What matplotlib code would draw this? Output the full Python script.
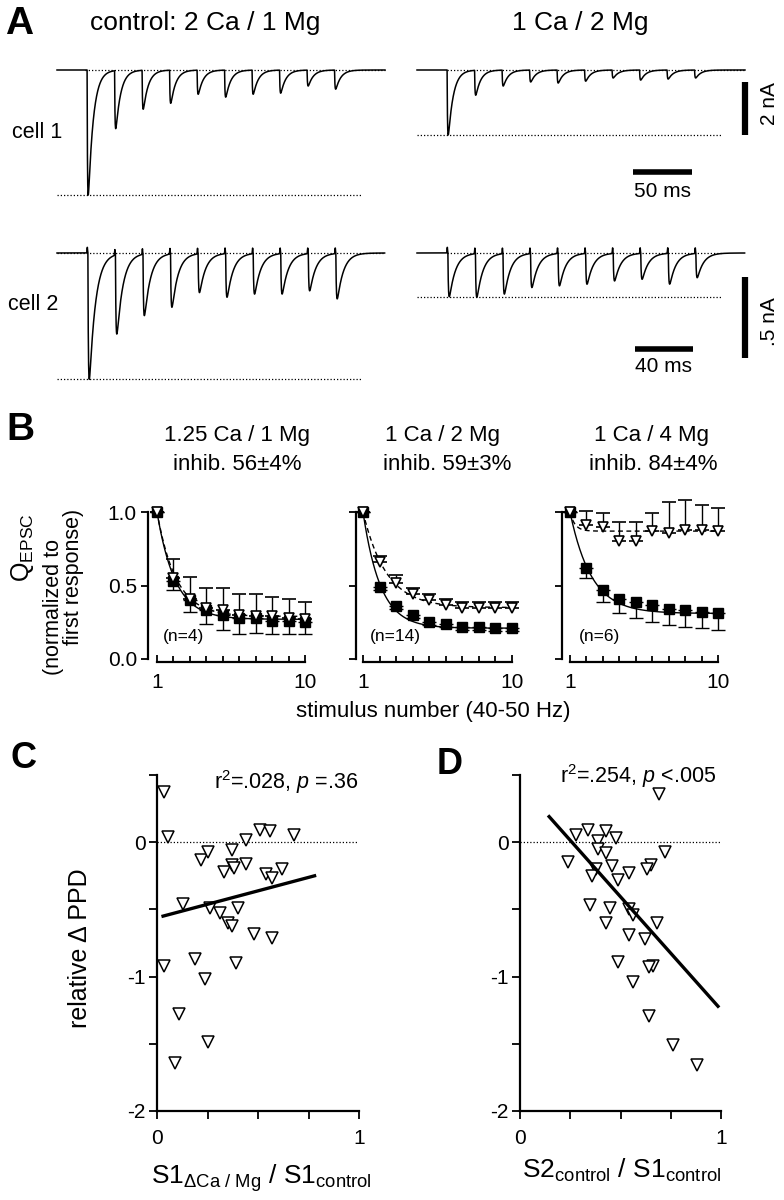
import numpy as np
import matplotlib
matplotlib.use('Agg')
import matplotlib.pyplot as plt

plt.rcParams['font.family'] = ['Liberation Sans', 'DejaVu Sans']
plt.rcParams['mathtext.fontset'] = 'custom'
plt.rcParams['mathtext.rm'] = 'Liberation Sans'
plt.rcParams['mathtext.it'] = 'Liberation Sans:italic'
plt.rcParams['mathtext.bf'] = 'Liberation Sans:bold'
plt.rcParams['axes.unicode_minus'] = False
plt.rcParams['axes.linewidth'] = 1.6

# ------------------------------------------------------------------ data
# Panel A: peak EPSC amplitudes (nA) for the 10 stimuli of each train
amp_cell1_ctrl = [4.72, 2.19, 1.47, 1.25, 0.91, 1.02, 0.91, 0.87, 0.60, 0.72]
amp_cell1_low = [2.45, 0.94, 0.60, 0.45, 0.49, 0.42, 0.30, 0.38, 0.34, 0.30]
amp_cell2_ctrl = [0.78, 0.49, 0.38, 0.33, 0.24, 0.27, 0.25, 0.25, 0.23, 0.28]
amp_cell2_low = [0.27, 0.27, 0.25, 0.21, 0.20, 0.19, 0.17, 0.16, 0.19, 0.15]
cell1_onset_ms, cell1_isi_ms, cell1_dur_ms = 25.5, 23.3, 278
cell2_onset_ms, cell2_isi_ms, cell2_dur_ms = 21.3, 19.0, 226
epsc_tau_rise, epsc_tau_decay = 0.35, 4.3
cell2_artifact_nA = 0.035

# Panel B: normalized Q_EPSC vs stimulus number
stim_number = [1, 2, 3, 4, 5, 6, 7, 8, 9, 10]
b_title1 = ["1.25 Ca / 1 Mg", "1 Ca / 2 Mg", "1 Ca / 4 Mg"]
b_title2 = ["inhib. 56±4%", "inhib. 59±3%", "inhib. 84±4%"]
b_n = ["(n=4)", "(n=14)", "(n=6)"]
# open triangles, upper error
b_open = [
    [1.0, 0.55, 0.41, 0.35, 0.33, 0.30, 0.29, 0.29, 0.28, 0.27],
    [1.0, 0.66, 0.52, 0.44, 0.40, 0.37, 0.35, 0.35, 0.35, 0.35],
    [1.0, 0.91, 0.90, 0.80, 0.80, 0.87, 0.86, 0.88, 0.88, 0.87],
]
b_open_err = [
    [0.0, 0.13, 0.15, 0.13, 0.15, 0.14, 0.15, 0.13, 0.13, 0.12],
    [0.0, 0.04, 0.05, 0.04, 0.04, 0.04, 0.04, 0.04, 0.04, 0.04],
    [0.0, 0.10, 0.09, 0.13, 0.13, 0.12, 0.21, 0.20, 0.17, 0.16],
]
# filled squares, lower error
b_fill = [
    [1.0, 0.53, 0.40, 0.33, 0.30, 0.28, 0.28, 0.26, 0.26, 0.25],
    [1.0, 0.49, 0.36, 0.30, 0.25, 0.24, 0.22, 0.22, 0.21, 0.21],
    [1.0, 0.62, 0.47, 0.41, 0.39, 0.37, 0.34, 0.33, 0.32, 0.31],
]
b_fill_err = [
    [0.0, 0.06, 0.08, 0.09, 0.10, 0.11, 0.10, 0.09, 0.09, 0.08],
    [0.0, 0.02, 0.02, 0.02, 0.02, 0.02, 0.02, 0.02, 0.02, 0.02],
    [0.0, 0.07, 0.08, 0.10, 0.11, 0.12, 0.11, 0.11, 0.11, 0.11],
]
# exponential fits: (plateau, tau in stimuli)
b_fit_open = [(0.29, 1.15), (0.35, 1.4), (0.87, 0.3)]
b_fit_fill = [(0.27, 1.1), (0.21, 1.05), (0.31, 1.3)]

# Panel C: relative change of PPD vs S1(dCa/Mg)/S1(control)
c_x = [0.035, 0.055, 0.22, 0.25, 0.37, 0.37, 0.33, 0.38, 0.44, 0.44, 0.51,
       0.56, 0.68, 0.54, 0.57, 0.62, 0.13, 0.26, 0.31, 0.40, 0.35, 0.37,
       0.48, 0.57, 0.035, 0.19, 0.39, 0.24, 0.11, 0.25, 0.09]
c_y = [0.37, 0.04, -0.13, -0.07, -0.06, -0.17, -0.22, -0.19, 0.02, -0.16,
       0.09, 0.08, 0.05, -0.24, -0.27, -0.20, -0.46, -0.49, -0.53, -0.49,
       -0.60, -0.62, -0.68, -0.71, -0.92, -0.87, -0.90, -1.02, -1.28, -1.49,
       -1.64]
c_fit_slope, c_fit_icpt, c_fit_range = 0.40, -0.562, (0.03, 0.78)
c_stats = r"r$^2$=.028, $p$ =.36"

# Panel D: relative change of PPD vs S2(control)/S1(control)
d_x = [0.69, 0.28, 0.34, 0.43, 0.39, 0.48, 0.39, 0.43, 0.72, 0.24, 0.46,
       0.65, 0.63, 0.38, 0.36, 0.54, 0.49, 0.35, 0.45, 0.54, 0.43, 0.68,
       0.56, 0.54, 0.62, 0.49, 0.66, 0.64, 0.56, 0.64, 0.76, 0.88]
d_y = [0.36, 0.05, 0.09, 0.08, 0.01, 0.03, -0.05, -0.08, -0.07, -0.15,
       -0.18, -0.17, -0.20, -0.20, -0.25, -0.23, -0.28, -0.47, -0.49, -0.50,
       -0.60, -0.60, -0.54, -0.69, -0.72, -0.89, -0.92, -0.93, -1.04, -1.29,
       -1.51, -1.66]
d_fit_slope, d_fit_icpt, d_fit_range = -1.68, 0.434, (0.145, 0.985)
d_stats = r"r$^2$=.254, $p$ <.005"

# ------------------------------------------------------------------ figure
W, H = 784, 1200
fig = plt.figure(figsize=(W / 100, H / 100), dpi=100)


def ax_px(l, t, r, b):
    return fig.add_axes([l / W, 1 - b / H, (r - l) / W, (b - t) / H])


def ftxt(x, y, s, **kw):
    kw.setdefault('ha', 'center')
    kw.setdefault('va', 'center')
    fig.text(x / W, 1 - y / H, s, **kw)


def epsc_trace(amps, onset, isi, dur, artifact=0.0):
    t = np.arange(0, dur, 0.05)
    y = np.zeros_like(t)
    tr, td = epsc_tau_rise, epsc_tau_decay
    tp = tr * td / (td - tr) * np.log(td / tr)
    norm = np.exp(-tp / td) - np.exp(-tp / tr)
    for i, a in enumerate(amps):
        s = t - (onset + i * isi)
        m = s > 0
        y[m] -= a * (np.exp(-s[m] / td) - np.exp(-s[m] / tr)) / norm
        if artifact:
            y += artifact * np.exp(-((s + 0.4) / 0.25) ** 2)
    return t, y


def trace_axes(l, r, t, b, x0, y0, px_ms, px_na):
    ax = ax_px(l, t, r, b)
    ax.set_xlim((l - x0) / px_ms, (r - x0) / px_ms)
    ax.set_ylim(-(b - y0) / px_na, (y0 - t) / px_na)
    ax.axis('off')
    return ax


dot = dict(color='black', lw=0.9, ls=(0, (1, 1.6)))
tr_kw = dict(color='black', lw=1.1)

# ---- Panel A, cell 1 (1.18 px/ms, 26.5 px/nA)
pxms1, pxna1 = 1.18, 26.5
axL = trace_axes(50, 395, 55, 210, 57, 70, pxms1, pxna1)
t, y = epsc_trace(amp_cell1_ctrl, cell1_onset_ms, cell1_isi_ms, cell1_dur_ms)
axL.plot(t, y, **tr_kw)
axL.plot([24, 278], [0, 0], **dot)
axL.plot([0, 258], [-amp_cell1_ctrl[0], -amp_cell1_ctrl[0]], **dot)

axR = trace_axes(410, 784, 55, 210, 417, 70, pxms1, pxna1)
t, y = epsc_trace(amp_cell1_low, cell1_onset_ms, cell1_isi_ms, cell1_dur_ms)
axR.plot(t, y, **tr_kw)
axR.plot([25, 278], [0, 0], **dot)
axR.plot([0, 258], [-amp_cell1_low[0], -amp_cell1_low[0]], **dot)
# scale bars 2 nA / 50 ms
axR.plot([278, 278], [-0.45, -2.45], color='black', lw=4.5, solid_capstyle='butt')
axR.text(299, -1.28, "2 nA", rotation=90, ha='center', va='center', fontsize=15)
axR.plot([183, 233], [-3.85, -3.85], color='black', lw=4, solid_capstyle='butt')
axR.text(208, -4.6, "50 ms", ha='center', va='center', fontsize=15, clip_on=False)

# ---- Panel A, cell 2 (1.45 px/ms, 162 px/nA)
pxms2, pxna2 = 1.45, 162.0
axL2 = trace_axes(50, 395, 238, 390, 57, 253, pxms2, pxna2)
t, y = epsc_trace(amp_cell2_ctrl, cell2_onset_ms, cell2_isi_ms, cell2_dur_ms,
                  cell2_artifact_nA)
axL2.plot(t, y, **tr_kw)
axL2.plot([0, 225], [0, 0], **dot)
axL2.plot([0, 210], [-amp_cell2_ctrl[0], -amp_cell2_ctrl[0]], **dot)

axR2 = trace_axes(410, 784, 238, 390, 417, 253, pxms2, pxna2)
t, y = epsc_trace(amp_cell2_low, cell2_onset_ms, cell2_isi_ms, cell2_dur_ms,
                  cell2_artifact_nA)
axR2.plot(t, y, **tr_kw)
axR2.plot([21, 210], [0, 0], **dot)
axR2.plot([0, 210], [-amp_cell2_low[0], -amp_cell2_low[0]], **dot)
axR2.plot([226, 226], [-0.148, -0.648], color='black', lw=4.5, solid_capstyle='butt')
axR2.text(243, -0.426, ".5 nA", rotation=90, ha='center', va='center', fontsize=15)
axR2.plot([150, 190], [-0.593, -0.593], color='black', lw=4, solid_capstyle='butt')
axR2.text(170, -0.70, "40 ms", ha='center', va='center', fontsize=15, clip_on=False)

ftxt(19, 24, "A", fontsize=28, fontweight='bold')
ftxt(205, 23, "control: 2 Ca / 1 Mg", fontsize=19)
ftxt(580, 23, "1 Ca / 2 Mg", fontsize=19)
ftxt(12, 132, "cell 1", fontsize=15.5, ha='left')
ftxt(8, 305, "cell 2", fontsize=15.5, ha='left')

# ---- Panel B
b_geom = [(157, 305, 148), (363, 512, 356), (570, 718, 562)]
b_title_x = [(237, 237), (442, 447), (652, 653)]
b_n_pos = [(183, 636), (395, 636), (600, 637)]
n_fine = np.linspace(1, 10, 300)
for i, (l, r, sx) in enumerate(b_geom):
    ax = ax_px(l, 659 - 1.1 * 147, r, 659)
    ax.set_xlim(1, 10)
    ax.set_ylim(0, 1.1)
    for s in ('top', 'right'):
        ax.spines[s].set_visible(False)
    ax.spines['left'].set_position(('outward', (l - sx) * 0.72))
    ax.spines['left'].set_bounds(0, 1)
    ax.spines['bottom'].set_position(('outward', 2.2))
    ax.spines['bottom'].set_bounds(1, 10)
    ax.set_xticks([1, 10])
    ax.set_xticklabels(["1", "10"])
    ax.set_xticks(range(2, 10), minor=True)
    ax.tick_params(axis='x', which='major', direction='in', length=5, width=1.3,
                   labelsize=15, pad=8)
    ax.tick_params(axis='x', which='minor', direction='in', length=4, width=1.3)
    ax.set_yticks([0, 0.5, 1.0])
    ax.tick_params(axis='y', direction='out', length=5, width=1.3, labelsize=15, pad=3)
    if i == 0:
        ax.set_yticklabels(["0.0", "0.5", "1.0"])
    else:
        ax.set_yticklabels([])
    p, tau = b_fit_fill[i]
    ax.plot(n_fine, p + (1 - p) * np.exp(-(n_fine - 1) / tau), color='black', lw=1.0)
    p, tau = b_fit_open[i]
    ax.plot(n_fine, p + (1 - p) * np.exp(-(n_fine - 1) / tau), color='black', lw=1.0,
            ls=(0, (3.5, 2.5)))
    zeros = [0] * len(stim_number)
    ax.errorbar(stim_number, b_fill[i], yerr=[b_fill_err[i], zeros], fmt='s',
                color='black', ms=7, capsize=5, elinewidth=1.0, capthick=1.0,
                clip_on=False, zorder=3)
    ax.errorbar(stim_number, b_open[i], yerr=[zeros, b_open_err[i]], fmt='v',
                mfc='white', mec='black', ecolor='black', ms=7.5, mew=1.2,
                capsize=5, elinewidth=1.0, capthick=1.0, clip_on=False, zorder=4)
    ftxt(b_title_x[i][0], 435, b_title1[i], fontsize=16)
    ftxt(b_title_x[i][1], 464, b_title2[i], fontsize=16)
    ftxt(b_n_pos[i][0], b_n_pos[i][1], b_n[i], fontsize=12.5)

ftxt(20, 430, "B", fontsize=28, fontweight='bold')
ftxt(433, 712, "stimulus number (40-50 Hz)", fontsize=16)
ftxt(22, 548, r"Q$_{\mathrm{EPSC}}$", fontsize=18, rotation=90)
ftxt(53, 607, "(normalized to", fontsize=15.5, rotation=90)
ftxt(74, 577, "first response)", fontsize=15.5, rotation=90)


# ---- Panels C and D
def scatter_panel(l, r, xs, ys, slope, icpt, xr, stats, stats_pos):
    ax = ax_px(l, 775, r, 1111)
    ax.set_xlim(0, 1)
    ax.set_ylim(-2, 0.5)
    for s in ('top', 'right'):
        ax.spines[s].set_visible(False)
    ax.set_xticks([0, 1])
    ax.set_xticklabels(["0", "1"])
    ax.set_xticks([0.25, 0.5, 0.75], minor=True)
    ax.set_yticks([0, -1, -2])
    ax.set_yticklabels(["0", "-1", "-2"])
    ax.set_yticks([0.5, -0.5, -1.5], minor=True)
    ax.tick_params(axis='both', which='both', direction='out', length=6, width=1.3)
    ax.tick_params(axis='x', which='major', labelsize=15, pad=7)
    ax.tick_params(axis='y', which='major', labelsize=15, pad=2)
    ax.axhline(0, **dot)
    ax.plot(xs, ys, 'v', mfc='white', mec='black', ms=8, mew=1.1, clip_on=False,
            zorder=3)
    xx = np.array(xr)
    ax.plot(xx, icpt + slope * xx, color='black', lw=2.4, zorder=4)
    ftxt(stats_pos[0], stats_pos[1], stats, fontsize=15.5)
    return ax


scatter_panel(157, 359, c_x, c_y, c_fit_slope, c_fit_icpt, c_fit_range,
              c_stats, (286, 782))
scatter_panel(520, 721, d_x, d_y, d_fit_slope, d_fit_icpt, d_fit_range,
              d_stats, (638, 776))

ftxt(23, 759, "C", fontsize=26, fontweight='bold')
ftxt(450, 765, "D", fontsize=26, fontweight='bold')
ftxt(80, 948, "relative Δ PPD", fontsize=18, rotation=90)
ftxt(261, 1178, r"S1$_{\mathrm{\Delta Ca\ /\ Mg}}$ / S1$_{\mathrm{control}}$", fontsize=19)
ftxt(622, 1170, r"S2$_{\mathrm{control}}$ / S1$_{\mathrm{control}}$", fontsize=19)

fig.savefig("out.png", dpi=100)
